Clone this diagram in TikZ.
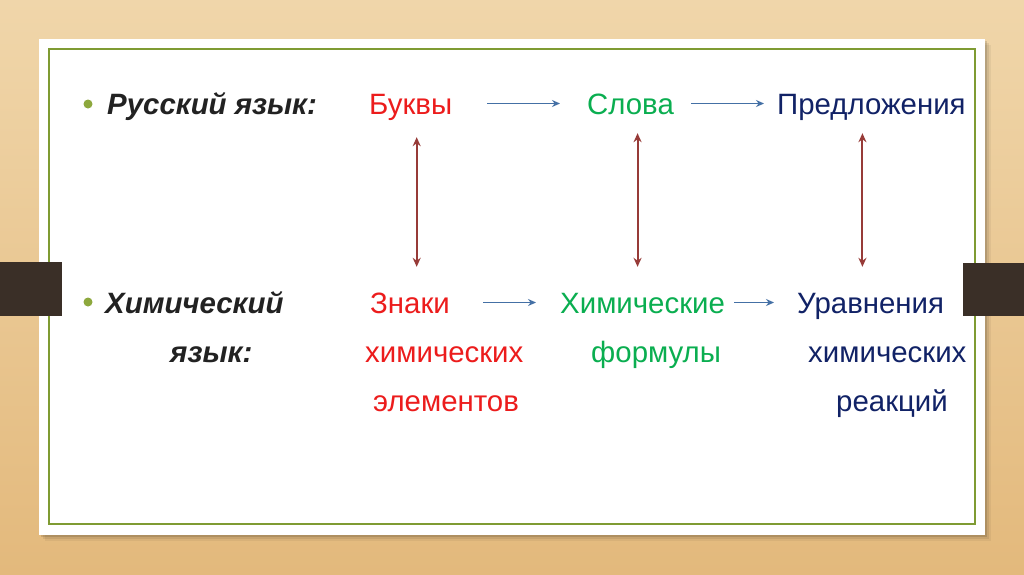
\documentclass[tikz,border=0pt]{standalone}
\usepackage{fontspec}
\setmainfont{Liberation Sans}
\usetikzlibrary{arrows.meta}
\definecolor{woodtop}{HTML}{F0D6AA}
\definecolor{woodbot}{HTML}{E3B97C}
\definecolor{barc}{HTML}{3A2F27}
\definecolor{framec}{HTML}{7F9B33}
\definecolor{bulletc}{HTML}{8DA83D}
\definecolor{inkc}{HTML}{222222}
\definecolor{redc}{HTML}{EC1C1C}
\definecolor{greenc}{HTML}{0AAE50}
\definecolor{navyc}{HTML}{112266}
\definecolor{hlinec}{HTML}{4470A5}
\definecolor{vlinec}{HTML}{973B38}

\begin{document}
\begin{tikzpicture}[x=1pt, y=-1pt,
  word/.style={anchor=base west, inner sep=0pt, text height=21pt,
    text depth=0pt, font=\fontsize{29.4}{35}\selectfont},
  head/.style={word, color=inkc, font=\fontsize{29.4}{35}\selectfont\bfseries\itshape},
  bull/.style={circle, fill=bulletc, minimum size=9pt, inner sep=0pt},
  harrow/.style={draw=hlinec, line width=1.7pt,
    -{Stealth[length=8pt, width=7pt]}},
  varrow/.style={draw=vlinec, line width=2pt,
    {Stealth[length=9pt, width=8pt]}-{Stealth[length=9pt, width=8pt]}}]

\def\ya{114}   % baseline, first row
\def\yb{313}   % baselines, second row
\def\yc{362}
\def\yd{411}

\useasboundingbox (0,0) rectangle (1024,574);

% ---- wood, card, frame
\shade[top color=woodtop, bottom color=woodbot] (0,0) rectangle (1024,574);
\foreach \s/\o in {6/0.05, 4/0.08, 2/0.12}{
  \fill[black, opacity=\o] (39+\s,39+\s) rectangle (985+\s,535+\s);
}
\fill[white] (39,39) rectangle (985,535);
\draw[framec, line width=1.3pt] (49,49) rectangle (975,524);

% ---- side bars
\fill[barc] (0,262) rectangle (62,316);
\fill[barc] (963,263) rectangle (1024,316);

% ---- first row
\node[bull] (bulA) at (88,104) {};
\node[head] (rus) at (107,\ya) {Русский язык:};
\node[word, color=redc] (bukvy) at (369,\ya) {Буквы};
\node[word, color=greenc] (slova) at (587,\ya) {Слова};
\node[word, color=navyc] (predl) at (777,\ya) {Предложения};

% ---- second row
\node[bull] (bulB) at (88,302) {};
\node[head] (khimA) at (105,\yb) {Химический};
\node[head] (yazyk) at (170,\yc) {язык:};
\node[word, color=redc] (znaki) at (370,\yb) {Знаки};
\node[word, color=redc] (khimB) at (365,\yc) {химических};
\node[word, color=redc] (elem) at (373,\yd) {элементов};
\node[word, color=greenc] (khimC) at (560,\yb) {Химические};
\node[word, color=greenc] (formuly) at (591,\yc) {формулы};
\node[word, color=navyc] (uravn) at (797,\yb) {Уравнения};
\node[word, color=navyc] (khimD) at (808,\yc) {химических};
\node[word, color=navyc] (reak) at (836,\yd) {реакций};

% ---- horizontal arrows
\draw[harrow, shorten <=35pt, shorten >=27pt] (bukvy.east) -- (slova.west);
\draw[harrow, shorten <=17pt, shorten >=13pt] (slova.east) -- (predl.west);
\draw[harrow, shorten <=33pt, shorten >=24pt] (znaki.east) -- (khimC.west);
\draw[harrow, shorten <=9pt, shorten >=23pt] (khimC.east) -- (uravn.west);

% ---- vertical arrows
\draw[varrow, shorten <=23pt, shorten >=25pt]
  ([xshift=6pt]bukvy.south) -- ([xshift=6pt]bukvy.south |- znaki.north);
\draw[varrow, shorten <=19pt, shorten >=25pt]
  ([xshift=7pt]slova.south) -- ([xshift=7pt]slova.south |- khimC.north);
\draw[varrow, shorten <=19pt, shorten >=25pt]
  ([xshift=-9pt]predl.south) -- ([xshift=-9pt]predl.south |- uravn.north);

\end{tikzpicture}
\end{document}
